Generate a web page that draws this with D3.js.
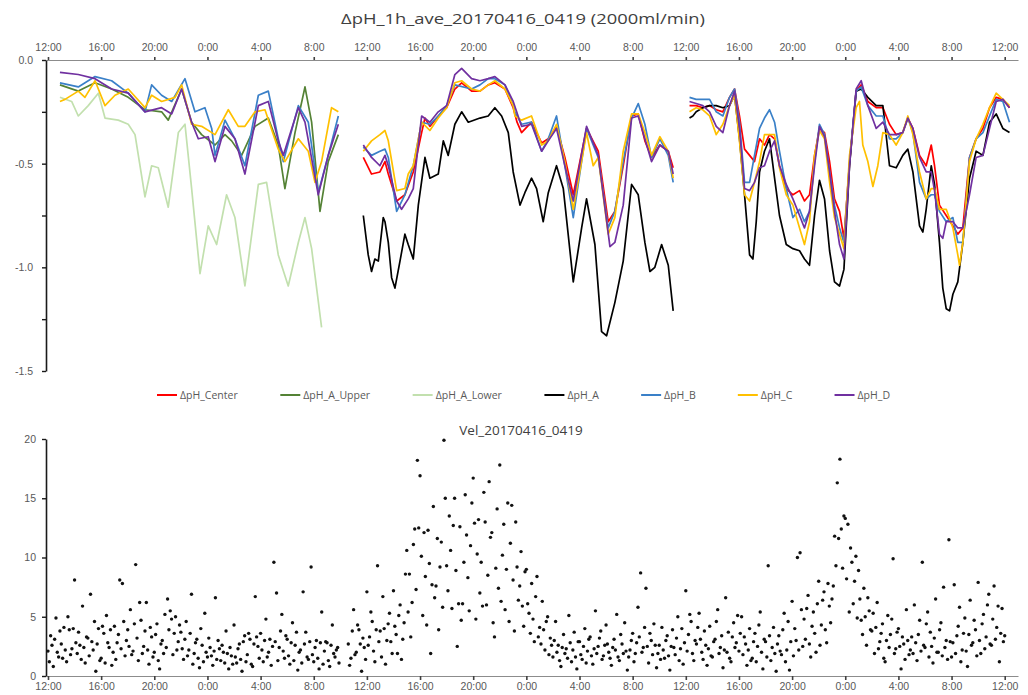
<!DOCTYPE html>
<html>
<head>
<meta charset="utf-8">
<script src="https://cdn.jsdelivr.net/npm/d3@7"></script>
<style>
  body { margin: 0; background: #fff; }
  svg { font-family: "Open Sans", "Liberation Sans", sans-serif; }
  .axis text { fill: #595959; font-size: 10.5px; }
  .axis-y .domain { stroke: #1a1a1a; stroke-width: 1.6px; }
  .axis-y line { stroke: #1a1a1a; stroke-width: 1.4px; }
  .axis-x .domain { stroke: #8c8c8c; stroke-width: 1.2px; }
  .axis-x line { stroke: #404040; stroke-width: 1.6px; }
  .chart-title { fill: #404040; text-anchor: middle; }
  .legend text { fill: #595959; font-size: 10.5px; }
  .ph-line { fill: none; stroke-width: 1.7px; stroke-linejoin: round; }
  .vel-dot { fill: #111; }
</style>
</head>
<body>
<div id="chart"></div>
<script>
// time is in hours after 2017-04-16 12:00
const tickHours = [0, 4, 8, 12, 16, 20, 24, 28, 32, 36, 40, 44, 48, 52, 56, 60, 64, 68, 72];
const tickLabels = ['12:00', '16:00', '20:00', '0:00', '4:00', '8:00', '12:00', '16:00', '20:00', '0:00',
    '4:00', '8:00', '12:00', '16:00', '20:00', '0:00', '4:00', '8:00', '12:00'];

const phTicks = [0, -0.25, -0.5, -0.75, -1.0, -1.25, -1.5];
const phTickLabels = ['0.0', '', '-0.5', '', '-1.0', '', '-1.5'];
const velTicks = [0, 5, 10, 15, 20];

const seriesNames = ['ΔpH_Center', 'ΔpH_A_Upper', 'ΔpH_A_Lower', 'ΔpH_A', 'ΔpH_B', 'ΔpH_C', 'ΔpH_D'];
const seriesColors = ['#ff0000', '#548235', '#c2e0ae', '#000000', '#3a80c8', '#ffc000', '#7030a0'];

// [hour, ΔpH] pairs, first run (16th 13:00 - 17th 10:00)
const upperSeg1 = [[0.90,-0.12],[2.28,-0.15],[3.54,-0.11],[4.79,-0.14],[6.04,-0.18],[7.30,-0.24],[8.55,-0.25],[9.05,-0.29],
    [10.06,-0.14],[10.81,-0.30],[11.56,-0.36],[12.57,-0.41],[13.32,-0.36],[13.82,-0.39],[14.57,-0.46],[15.58,-0.32],
    [16.58,-0.28],[17.33,-0.41],[17.83,-0.62],[18.59,-0.35],[19.34,-0.13],[19.84,-0.30],[20.47,-0.73],[21.09,-0.49],[21.85,-0.36]];
const lowerSeg1 = [[0.90,-0.18],[1.78,-0.20],[2.28,-0.27],[3.03,-0.22],[3.79,-0.16],[4.29,-0.28],[5.29,-0.29],[6.04,-0.31],
    [6.55,-0.36],[7.30,-0.66],[7.80,-0.51],[8.30,-0.52],[9.05,-0.71],[9.81,-0.35],[10.31,-0.31],[10.81,-0.62],[11.44,-1.03],
    [12.06,-0.80],[12.69,-0.89],[13.44,-0.65],[14.07,-0.76],[14.82,-1.09],[15.83,-0.60],[16.45,-0.59],[17.33,-0.94],
    [18.08,-1.09],[18.84,-0.88],[19.34,-0.76],[19.84,-0.91],[20.59,-1.29]];
const bSeg1 = [[0.90,-0.11],[2.28,-0.13],[3.54,-0.08],[4.79,-0.10],[6.04,-0.16],[7.30,-0.25],[7.80,-0.12],[8.55,-0.17],
    [9.31,-0.20],[10.31,-0.09],[11.06,-0.25],[11.81,-0.23],[12.32,-0.33],[12.57,-0.46],[13.32,-0.29],[14.07,-0.38],
    [14.82,-0.51],[15.83,-0.17],[16.58,-0.15],[17.33,-0.38],[17.71,-0.49],[18.84,-0.22],[19.59,-0.30],[20.34,-0.64],
    [21.09,-0.46],[21.85,-0.27]];
const cSeg1 = [[0.90,-0.20],[1.28,-0.19],[2.28,-0.15],[2.78,-0.18],[3.54,-0.10],[4.29,-0.22],[5.04,-0.17],[6.04,-0.14],
    [7.30,-0.23],[7.80,-0.17],[8.55,-0.20],[9.56,-0.18],[10.06,-0.12],[10.81,-0.31],[11.56,-0.32],[12.57,-0.36],
    [13.57,-0.24],[14.32,-0.32],[14.82,-0.32],[15.58,-0.25],[16.33,-0.24],[17.33,-0.43],[17.83,-0.49],[18.84,-0.38],
    [19.59,-0.44],[20.09,-0.59],[20.59,-0.49],[21.34,-0.23],[21.85,-0.25]];
const dSeg1 = [[0.90,-0.06],[2.28,-0.07],[3.54,-0.09],[4.79,-0.14],[6.04,-0.16],[7.30,-0.25],[8.55,-0.23],[9.31,-0.26],
    [10.06,-0.14],[10.81,-0.30],[11.31,-0.38],[12.06,-0.37],[12.57,-0.49],[13.32,-0.32],[14.07,-0.38],[14.82,-0.55],
    [15.83,-0.22],[16.58,-0.20],[17.33,-0.39],[17.71,-0.46],[18.84,-0.23],[19.34,-0.30],[20.34,-0.65],[21.09,-0.46],[21.85,-0.31]];

// second run (17th 11:30 - 18th 11:00)
const centerSeg2 = [[23.73,-0.47],[24.35,-0.55],[24.98,-0.54],[25.36,-0.49],[25.61,-0.55],[26.24,-0.68],[26.86,-0.65],
    [27.49,-0.54],[28.12,-0.35],[28.37,-0.28],[28.74,-0.32],[29.37,-0.27],[30.00,-0.23],[30.62,-0.14],[31.13,-0.11],
    [31.88,-0.15],[32.51,-0.15],[33.13,-0.12],[33.63,-0.11],[34.39,-0.14],[35.01,-0.23],[35.30,-0.30],[35.64,-0.35],
    [36.39,-0.30],[37.15,-0.40],[37.65,-0.38],[38.27,-0.32],[38.90,-0.47],[39.53,-0.65],[40.53,-0.33],[41.41,-0.44],
    [42.16,-0.78],[42.66,-0.73],[43.29,-0.51],[43.92,-0.27],[44.42,-0.26],[44.92,-0.39],[45.42,-0.47],[46.05,-0.41],
    [46.68,-0.44],[47.05,-0.52]];
const aSeg2 = [[23.73,-0.75],[24.10,-0.94],[24.35,-1.02],[24.60,-0.96],[24.86,-0.97],[25.23,-0.76],[25.36,-0.78],
    [25.61,-0.88],[25.86,-1.05],[26.11,-1.10],[26.49,-0.97],[26.86,-0.84],[27.11,-0.89],[27.49,-0.96],[27.87,-0.70],
    [28.37,-0.47],[28.74,-0.57],[29.37,-0.55],[29.75,-0.39],[30.12,-0.46],[30.62,-0.31],[31.13,-0.25],[31.63,-0.30],
    [32.51,-0.28],[33.13,-0.27],[33.63,-0.23],[34.14,-0.27],[34.64,-0.35],[35.01,-0.54],[35.52,-0.70],[35.89,-0.64],
    [36.39,-0.57],[36.77,-0.62],[37.27,-0.78],[37.65,-0.64],[38.27,-0.51],[38.78,-0.62],[39.53,-1.07],[40.16,-0.81],
    [40.53,-0.67],[41.16,-0.89],[41.66,-1.31],[42.04,-1.33],[42.66,-1.17],[43.29,-0.97],[43.92,-0.60],[44.42,-0.65],
    [44.92,-0.88],[45.30,-1.02],[45.67,-1.00],[46.18,-0.89],[46.68,-0.99],[47.05,-1.21]];
const bSeg2 = [[23.73,-0.42],[24.35,-0.46],[24.98,-0.44],[25.36,-0.43],[25.61,-0.47],[26.24,-0.73],[26.86,-0.65],
    [27.49,-0.51],[28.12,-0.30],[28.74,-0.31],[29.37,-0.27],[30.00,-0.22],[30.62,-0.12],[31.88,-0.14],[32.51,-0.12],
    [33.13,-0.09],[33.63,-0.09],[34.39,-0.12],[35.01,-0.22],[35.14,-0.25],[35.64,-0.31],[36.39,-0.30],[37.15,-0.44],
    [37.65,-0.38],[38.27,-0.27],[38.90,-0.51],[39.53,-0.76],[40.53,-0.33],[41.41,-0.47],[42.16,-0.81],[42.66,-0.73],
    [43.29,-0.49],[43.92,-0.28],[44.42,-0.21],[44.92,-0.31],[45.42,-0.47],[46.05,-0.38],[46.68,-0.46],[47.05,-0.59]];
const cSeg2 = [[23.73,-0.44],[24.35,-0.39],[24.98,-0.36],[25.36,-0.34],[25.61,-0.39],[26.24,-0.63],[26.86,-0.62],
    [27.11,-0.55],[27.49,-0.51],[28.12,-0.30],[28.74,-0.34],[29.37,-0.28],[30.00,-0.23],[30.62,-0.11],[31.13,-0.10],
    [31.88,-0.14],[32.51,-0.15],[33.13,-0.12],[33.63,-0.10],[34.39,-0.14],[35.01,-0.22],[35.14,-0.27],[35.64,-0.29],
    [36.39,-0.27],[37.15,-0.41],[37.65,-0.39],[38.27,-0.31],[38.90,-0.49],[39.53,-0.72],[40.53,-0.35],[41.03,-0.51],
    [41.41,-0.47],[42.16,-0.84],[42.66,-0.76],[43.29,-0.44],[43.92,-0.26],[44.42,-0.26],[44.92,-0.35],[45.42,-0.46],
    [46.05,-0.37],[46.68,-0.44],[47.05,-0.57]];
const dSeg2 = [[23.73,-0.41],[24.35,-0.47],[24.98,-0.51],[25.36,-0.46],[25.61,-0.51],[26.24,-0.68],[26.61,-0.72],
    [27.11,-0.67],[27.49,-0.62],[28.12,-0.27],[28.74,-0.30],[29.37,-0.25],[30.00,-0.22],[30.62,-0.07],[31.13,-0.04],
    [31.88,-0.09],[32.51,-0.10],[33.13,-0.09],[33.63,-0.08],[34.39,-0.12],[35.01,-0.20],[35.64,-0.32],[36.39,-0.31],
    [37.15,-0.44],[37.65,-0.39],[38.27,-0.33],[38.90,-0.51],[39.53,-0.68],[40.53,-0.32],[41.41,-0.46],[42.29,-0.90],
    [42.66,-0.88],[43.29,-0.70],[43.92,-0.28],[44.42,-0.27],[44.92,-0.38],[45.42,-0.49],[46.05,-0.41],[46.68,-0.44],[47.05,-0.55]];

// third run (18th 12:30 - 19th 12:00)
const centerSeg3 = [[48.28,-0.22],[48.78,-0.22],[49.28,-0.23],[49.79,-0.22],[50.29,-0.24],[50.79,-0.25],[51.29,-0.18],
    [51.67,-0.14],[52.04,-0.27],[52.42,-0.43],[52.80,-0.46],[53.17,-0.49],[53.55,-0.38],[53.92,-0.41],[54.30,-0.36],
    [54.68,-0.38],[55.05,-0.51],[55.56,-0.62],[56.06,-0.65],[56.56,-0.63],[56.93,-0.68],[57.31,-0.65],[57.69,-0.46],
    [58.06,-0.33],[58.44,-0.35],[58.82,-0.49],[59.19,-0.67],[59.57,-0.73],[59.90,-0.86],[60.32,-0.50],[60.82,-0.15],
    [61.20,-0.12],[61.70,-0.20],[62.33,-0.23],[62.83,-0.23],[63.33,-0.31],[63.83,-0.36],[64.33,-0.35],[64.71,-0.28],
    [65.09,-0.33],[65.59,-0.46],[66.09,-0.51],[66.47,-0.41],[66.72,-0.51],[67.09,-0.70],[67.60,-0.75],[68.10,-0.80],
    [68.47,-0.84],[68.85,-0.81],[69.35,-0.47],[69.85,-0.38],[70.36,-0.33],[70.86,-0.23],[71.36,-0.18],[71.86,-0.19],[72.36,-0.23]];
const aSeg3 = [[48.28,-0.28],[48.53,-0.27],[48.78,-0.25],[49.28,-0.23],[49.79,-0.22],[50.29,-0.22],[50.79,-0.23],
    [51.29,-0.22],[51.67,-0.17],[52.04,-0.38],[52.42,-0.65],[52.80,-0.94],[53.05,-0.96],[53.30,-0.78],[53.55,-0.54],
    [53.92,-0.44],[54.30,-0.38],[54.68,-0.57],[55.05,-0.75],[55.56,-0.89],[56.06,-0.91],[56.56,-0.92],[56.93,-0.96],
    [57.31,-0.99],[57.69,-0.75],[58.06,-0.58],[58.44,-0.67],[58.82,-0.92],[59.19,-1.07],[59.57,-1.09],[59.90,-1.01],
    [60.32,-0.51],[60.82,-0.15],[61.20,-0.14],[61.70,-0.18],[62.33,-0.22],[62.83,-0.22],[63.33,-0.51],[63.83,-0.52],
    [64.33,-0.46],[64.71,-0.43],[65.09,-0.54],[65.59,-0.80],[65.84,-0.83],[66.09,-0.72],[66.47,-0.51],[66.72,-0.60],
    [67.09,-0.88],[67.34,-1.10],[67.60,-1.20],[67.85,-1.21],[68.10,-1.13],[68.47,-1.07],[68.85,-0.88],[69.35,-0.57],
    [69.85,-0.44],[70.36,-0.46],[70.86,-0.30],[71.36,-0.26],[71.86,-0.33],[72.36,-0.35]];
const bSeg3 = [[48.28,-0.18],[48.78,-0.19],[49.28,-0.19],[49.79,-0.19],[50.29,-0.25],[50.79,-0.27],[51.29,-0.18],
    [51.67,-0.14],[52.04,-0.30],[52.42,-0.59],[52.80,-0.59],[53.17,-0.46],[53.55,-0.33],[53.92,-0.28],[54.30,-0.24],
    [54.68,-0.30],[55.05,-0.44],[55.56,-0.62],[56.06,-0.76],[56.56,-0.72],[56.93,-0.78],[57.31,-0.73],[57.69,-0.49],
    [58.06,-0.31],[58.44,-0.36],[58.82,-0.54],[59.19,-0.70],[59.57,-0.81],[59.90,-0.88],[60.32,-0.49],[60.82,-0.15],
    [61.20,-0.13],[61.70,-0.22],[62.33,-0.27],[62.83,-0.27],[63.33,-0.38],[63.83,-0.38],[64.33,-0.35],[64.71,-0.28],
    [65.09,-0.35],[65.59,-0.59],[66.09,-0.67],[66.47,-0.65],[66.72,-0.65],[67.09,-0.73],[67.60,-0.78],[68.10,-0.76],
    [68.47,-0.88],[68.85,-0.88],[69.35,-0.47],[69.85,-0.38],[70.36,-0.35],[70.86,-0.27],[71.36,-0.19],[71.86,-0.20],[72.36,-0.30]];
const cSeg3 = [[48.28,-0.25],[48.78,-0.23],[49.28,-0.24],[49.79,-0.27],[50.29,-0.36],[50.79,-0.31],[51.29,-0.22],
    [51.67,-0.17],[52.04,-0.39],[52.42,-0.65],[52.80,-0.68],[53.17,-0.59],[53.55,-0.49],[53.92,-0.36],[54.30,-0.36],
    [54.68,-0.36],[55.05,-0.52],[55.56,-0.65],[56.06,-0.70],[56.56,-0.81],[56.93,-0.89],[57.31,-0.78],[57.69,-0.46],
    [58.06,-0.34],[58.44,-0.38],[58.82,-0.59],[59.19,-0.76],[59.57,-0.84],[59.90,-0.91],[60.32,-0.46],[60.82,-0.23],
    [61.07,-0.20],[61.32,-0.41],[61.70,-0.49],[62.08,-0.61],[62.45,-0.51],[62.83,-0.35],[63.33,-0.36],[63.83,-0.41],
    [64.33,-0.35],[64.71,-0.27],[65.09,-0.36],[65.59,-0.54],[66.09,-0.67],[66.47,-0.62],[66.72,-0.62],[67.09,-0.72],
    [67.60,-0.72],[68.10,-0.81],[68.47,-0.94],[68.60,-0.99],[68.85,-0.88],[69.35,-0.49],[69.85,-0.38],[70.36,-0.31],
    [70.86,-0.23],[71.36,-0.16],[71.86,-0.19],[72.36,-0.22]];
const dSeg3 = [[48.28,-0.20],[48.78,-0.21],[49.28,-0.22],[49.79,-0.25],[50.29,-0.32],[50.79,-0.35],[51.29,-0.22],
    [51.67,-0.15],[52.04,-0.33],[52.42,-0.62],[52.80,-0.63],[53.17,-0.59],[53.55,-0.52],[53.92,-0.51],[54.30,-0.44],
    [54.68,-0.39],[55.05,-0.51],[55.56,-0.60],[56.06,-0.67],[56.56,-0.75],[56.93,-0.81],[57.31,-0.73],[57.69,-0.51],
    [58.06,-0.32],[58.44,-0.37],[58.82,-0.54],[59.19,-0.73],[59.57,-0.89],[59.90,-0.96],[60.32,-0.51],[60.82,-0.14],
    [61.20,-0.10],[61.70,-0.22],[62.33,-0.33],[62.83,-0.30],[63.33,-0.36],[63.83,-0.36],[64.33,-0.35],[64.71,-0.28],
    [65.09,-0.33],[65.59,-0.47],[66.09,-0.54],[66.47,-0.54],[66.72,-0.63],[67.09,-0.84],[67.34,-0.86],[67.60,-0.78],
    [68.10,-0.78],[68.47,-0.81],[68.85,-0.81],[69.35,-0.65],[69.85,-0.47],[70.36,-0.46],[70.86,-0.33],[71.36,-0.20],
    [71.86,-0.19],[72.36,-0.23]];

// velocity samples every 0.1 h (one row of ten = one hour); run A starts at hour 0, run B at hour 22.6
const velStepHours = 0.1;
const velStartA = 0;
const velA = [
    2.1, 1.2, 3.4, 2.6, 0.8, 3.1, 4.9, 2.0, 1.6, 3.8,
    2.7, 1.5, 4.1, 2.2, 1.2, 5.0, 3.9, 1.8, 2.3, 4.0,
    8.1, 2.8, 1.9, 3.7, 2.6, 1.4, 5.9, 2.4, 1.1, 3.3,
    3.2, 1.7, 6.9, 2.9, 2.2, 4.6, 0.4, 2.7, 4.0, 1.3,
    1.5, 4.2, 3.6, 1.1, 5.1, 2.8, 2.4, 3.9, 0.9, 2.0,
    4.2, 1.4, 2.8, 3.5, 8.1, 2.3, 7.8, 4.6, 1.7, 3.0,
    3.9, 2.5, 5.6, 1.8, 2.1, 4.4, 9.4, 3.2, 1.3, 6.2,
    4.7, 1.9, 2.5, 3.8, 6.2, 2.2, 1.0, 4.1, 3.3, 1.6,
    2.0, 3.5, 4.4, 1.3, 0.6, 2.7, 3.0, 1.9, 5.2, 2.4,
    6.5, 3.9, 5.5, 4.8, 1.8, 3.6, 5.0, 2.2, 2.9, 4.3,
    3.7, 2.3, 1.4, 3.1, 4.6, 1.7, 2.2, 3.6, 6.9, 1.0,
    1.9, 2.8, 3.1, 1.5, 0.7, 4.0, 2.6, 1.2, 5.3, 2.0,
    1.6, 3.2, 2.4, 1.7, 0.9, 2.1, 6.6, 1.4, 3.0, 2.3,
    1.3, 2.6, 2.0, 1.1, 3.8, 1.9, 0.6, 2.4, 1.7, 1.0,
    4.3, 1.6, 1.1, 2.3, 2.7, 1.4, 0.4, 2.9, 3.4, 1.2,
    1.8, 3.6, 3.1, 1.0, 0.8, 2.7, 6.7, 3.3, 2.5, 1.5,
    3.6, 2.2, 1.2, 3.0, 4.8, 1.6, 2.0, 3.1, 0.9, 2.5,
    9.6, 2.9, 7.0, 1.3, 2.4, 3.8, 5.2, 2.1, 1.5, 3.4,
    3.1, 1.7, 1.0, 2.8, 4.5, 1.3, 2.6, 3.7, 0.5, 2.0,
    2.2, 1.1, 7.1, 2.7, 3.7, 1.6, 1.4, 2.9, 9.2, 1.8,
    1.2, 2.4, 3.0, 1.5, 0.6, 2.8, 5.4, 1.0, 2.1, 2.9,
    2.8, 1.3, 0.8, 2.6, 4.3, 1.9, 1.6, 2.2, 2.4, 1.1];
const velStartB = 22.6;
const velB = [
    2.7, 0.9, 1.5, 3.8,
    5.6, 1.8, 2.0, 4.3, 3.9, 2.7, 0.4, 3.2, 2.4, 1.4,
    7.1, 2.6, 3.3, 5.4, 4.6, 2.1, 1.2, 3.9, 9.3, 2.9,
    3.8, 1.6, 6.7, 4.0, 1.0, 3.0, 4.4, 5.3, 2.9, 1.9,
    7.2, 4.2, 3.5, 1.9, 5.1, 6.0, 1.4, 3.1, 4.5, 8.6,
    10.6, 5.4, 8.6, 3.3, 6.2, 11.1, 12.4, 7.3, 18.2, 12.5,
    16.9, 10.1, 5.1, 12.1, 8.4, 4.3, 12.3, 9.5, 1.9, 7.7,
    14.3, 6.6, 7.6, 11.6, 3.9, 9.2, 11.3, 5.8, 19.9, 15.0,
    9.3, 7.2, 13.5, 10.6, 5.7, 12.7, 15.0, 8.9, 2.5, 6.1,
    12.6, 4.7, 6.1, 9.6, 15.3, 11.9, 8.3, 5.5, 11.0, 14.6,
    16.7, 12.9, 4.8, 10.3, 13.2, 7.0, 9.6, 5.9, 15.5, 13.0,
    6.0, 8.5, 16.4, 11.7, 12.1, 4.5, 3.3, 9.1, 14.1, 7.4,
    17.8, 6.3, 10.2, 12.8, 5.6, 9.0, 14.6, 4.6, 11.2, 14.4,
    8.1, 3.8, 13.0, 9.2, 6.4, 7.6, 10.5, 5.9, 4.2, 8.8,
    9.0, 6.1, 5.3, 3.6, 7.8, 4.8, 2.9, 6.7, 8.4, 3.3,
    4.1, 2.7, 6.3, 3.9, 2.2, 4.6, 5.0, 1.8, 3.2, 2.6,
    1.6, 3.0, 4.6, 2.0, 2.6, 1.3, 0.8, 2.4, 3.5, 1.9,
    2.3, 1.5, 5.1, 2.8, 1.2, 2.2, 3.7, 1.6, 0.6, 2.9,
    2.9, 1.8, 1.4, 2.5, 4.0, 1.1, 2.1, 3.1, 3.3, 1.7,
    1.0, 2.3, 5.5, 1.9, 2.5, 3.2, 3.8, 1.4, 1.7, 2.6,
    4.3, 2.7, 2.0, 1.5, 0.9, 2.4, 3.1, 2.2, 5.2, 1.6,
    1.3, 3.5, 2.7, 1.9, 4.5, 2.1, 0.5, 1.6, 2.2, 3.0,
    3.6, 1.2, 1.9, 2.8, 5.8, 3.3, 8.7, 2.0, 2.4, 4.1,
    7.4, 2.5, 1.1, 3.6, 3.0, 1.8, 4.4, 2.6, 0.7, 1.9,
    2.6, 1.4, 4.1, 2.2, 1.5, 3.0, 3.4, 1.7, 0.5, 2.5,
    3.9, 2.4, 1.8, 3.2, 5.0, 1.3, 2.3, 4.0, 1.0, 2.8,
    7.2, 2.1, 3.5, 5.2, 4.6, 1.9, 1.3, 3.0, 2.7, 4.1,
    5.3, 3.1, 2.0, 1.4, 3.8, 2.6, 0.9, 2.3, 4.2, 1.7,
    1.6, 2.9, 3.1, 4.6, 5.6, 1.9, 2.4, 3.4, 0.7, 2.2,
    6.6, 2.0, 3.7, 1.5, 1.2, 3.3, 4.5, 2.4, 2.8, 5.1,
    2.1, 3.6, 5.0, 1.8, 3.3, 2.7, 0.9, 2.2, 4.0, 1.3,
    1.5, 2.9, 3.6, 1.2, 2.5, 4.3, 5.4, 2.0, 0.6, 3.1,
    2.9, 1.6, 9.3, 3.4, 1.3, 2.4, 4.1, 1.9, 0.4, 2.7,
    3.4, 2.1, 1.8, 3.9, 5.3, 1.2, 2.2, 4.6, 0.5, 2.9,
    6.3, 1.7, 4.0, 3.0, 10.0, 2.2, 10.4, 5.6, 2.5, 4.8,
    3.1, 5.7, 6.8, 2.7, 1.6, 4.2, 5.4, 3.6, 2.0, 6.1,
    8.0, 2.6, 4.3, 6.4, 7.1, 3.9, 2.8, 7.8, 5.9, 4.5,
    6.5, 7.6, 11.8, 9.3, 16.3, 11.6, 18.3, 12.4, 9.1, 13.5,
    13.3, 8.2, 12.8, 5.4, 10.8, 9.6, 6.1, 8.0, 10.1, 4.9,
    8.9, 6.5, 4.7, 3.5, 7.4, 5.0, 2.6, 6.6, 5.5, 3.9,
    3.8, 5.3, 1.9, 4.1, 6.2, 2.3, 2.9, 3.6, 4.4, 1.5,
    1.2, 3.0, 5.1, 2.4, 3.5, 4.8, 9.9, 1.9, 2.3, 3.7,
    4.0, 2.5, 0.6, 3.3, 2.7, 1.4, 5.6, 3.0, 1.8, 2.2,
    3.3, 1.9, 6.0, 2.8, 1.3, 3.5, 4.7, 2.1, 9.6, 2.6,
    2.4, 4.4, 5.4, 1.6, 3.7, 2.5, 1.1, 3.2, 6.5, 2.0,
    2.0, 3.9, 4.5, 1.7, 7.5, 2.4, 3.0, 1.4, 11.5, 2.9,
    1.6, 2.8, 7.7, 1.9, 3.4, 4.2, 5.8, 1.2, 2.2, 3.6,
    4.9, 2.1, 0.8, 3.5, 6.4, 2.6, 2.8, 4.7, 3.9, 1.7,
    7.9, 3.0, 1.9, 4.4, 5.2, 2.3, 3.3, 6.0, 6.9, 2.7,
    2.6, 4.8, 7.6, 3.1, 4.1, 5.9, 1.2, 3.6, 5.7, 2.9,
    3.4];

// series -> list of line segments
const seriesSegments = [
    [centerSeg2, centerSeg3],
    [upperSeg1],
    [lowerSeg1],
    [aSeg2, aSeg3],
    [bSeg1, bSeg2, bSeg3],
    [cSeg1, cSeg2, cSeg3],
    [dSeg1, dSeg2, dSeg3]
];

function drawChart(selector) {

    let width = 1028,
        height = 695,
        left = 46,
        right = 1018,
        phTop = 60,
        phBottom = 371,
        velTop = 439,
        velBottom = 676;

    let svg = d3.select(selector)
        .append('svg')
        .attr('width', width)
        .attr('height', height);

    // shared time scale (hours after 16th 12:00)
    let x = d3.scaleLinear()
        .domain([-0.15, 73])
        .range([left, right]);

    let yPh = d3.scaleLinear()
        .domain([-1.5, 0])
        .range([phBottom, phTop]);

    let yVel = d3.scaleLinear()
        .domain([0, 20])
        .range([velBottom, velTop]);

    // ---- top chart: ΔpH ----
    // the source picture is stretched sideways, so the title is stretched too
    svg.append('text')
        .classed('chart-title', true)
        .attr('x', 523)
        .attr('y', 24)
        .style('font-size', '15px')
        .attr('textLength', 364)
        .attr('lengthAdjust', 'spacingAndGlyphs')
        .text('ΔpH_1h_ave_20170416_0419 (2000ml/min)');

    svg.append('g')
        .classed('axis axis-x', true)
        .attr('transform', `translate(0,${phTop})`)
        .call(d3.axisTop(x)
            .tickValues(tickHours)
            .tickFormat((d, i) => tickLabels[i])
            .tickSizeInner(3)
            .tickSizeOuter(0)
            .tickPadding(6));

    svg.append('g')
        .classed('axis axis-y', true)
        .attr('transform', `translate(${left},0)`)
        .call(d3.axisLeft(yPh)
            .tickValues(phTicks)
            .tickFormat((d, i) => phTickLabels[i])
            .tickSizeInner(4)
            .tickSizeOuter(0)
            .tickPadding(9));

    let line = d3.line()
        .x(d => x(d[0]))
        .y(d => yPh(d[1]));

    seriesSegments.forEach((segs, i) => {
        svg.append('g')
            .selectAll('path')
            .data(segs)
            .enter()
            .append('path')
            .classed('ph-line', true)
            .attr('stroke', seriesColors[i])
            .attr('d', line);
    });

    // legend, spread between x=157 and x=890 like the source
    let legend = svg.append('g').classed('legend', true);
    let items = legend.selectAll('g')
        .data(seriesNames)
        .enter()
        .append('g');
    items.append('line')
        .attr('x1', 0).attr('x2', 20)
        .attr('y1', 0).attr('y2', 0)
        .attr('stroke', (d, i) => seriesColors[i])
        .attr('stroke-width', 2);
    items.append('text')
        .attr('x', 23)
        .attr('y', 3.5)
        .text(d => d);

    let widths = [];
    items.each(function () { widths.push(this.getBBox().width); });
    let legendLeft = 157, legendRight = 890;
    let gap = (legendRight - legendLeft - d3.sum(widths)) / (widths.length - 1);
    let offsets = [], cursor = legendLeft;
    widths.forEach(w => { offsets.push(cursor); cursor += w + gap; });
    items.attr('transform', (d, i) => `translate(${offsets[i]},395)`);

    // ---- bottom chart: velocity ----
    svg.append('text')
        .classed('chart-title', true)
        .attr('x', 521)
        .attr('y', 435)
        .style('font-size', '13.5px')
        .text('Vel_20170416_0419');

    svg.append('g')
        .classed('axis axis-x', true)
        .attr('transform', `translate(0,${velBottom})`)
        .call(d3.axisBottom(x)
            .tickValues(tickHours)
            .tickFormat((d, i) => tickLabels[i])
            .tickSizeInner(4)
            .tickSizeOuter(0)
            .tickPadding(3));

    svg.append('g')
        .classed('axis axis-y', true)
        .attr('transform', `translate(${left},0)`)
        .call(d3.axisLeft(yVel)
            .tickValues(velTicks)
            .tickSizeInner(4)
            .tickSizeOuter(0)
            .tickPadding(6));

    let velPoints = velA.map((v, i) => [velStartA + i * velStepHours, v])
        .concat(velB.map((v, i) => [velStartB + i * velStepHours, v]));

    svg.append('g')
        .selectAll('circle')
        .data(velPoints)
        .enter()
        .append('circle')
        .classed('vel-dot', true)
        .attr('cx', d => x(d[0]))
        .attr('cy', d => yVel(d[1]))
        .attr('r', 1.7);
}

drawChart('#chart');
</script>
</body>
</html>
